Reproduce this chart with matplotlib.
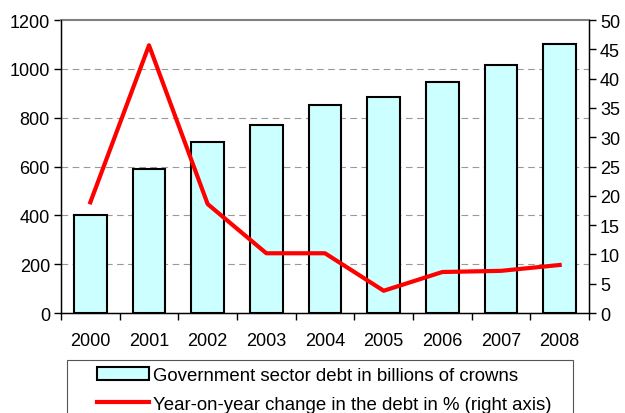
import numpy as np
import matplotlib.pyplot as plt
from matplotlib import rcParams
from matplotlib.patches import Rectangle

rcParams['font.family'] = ['Liberation Sans', 'DejaVu Sans']
rcParams['font.size'] = 13

years = ['2000', '2001', '2002', '2003', '2004', '2005', '2006', '2007', '2008']
debt = [403, 590, 700, 772, 852, 886, 948, 1018, 1103]
change = [18.9, 45.7, 18.6, 10.2, 10.2, 3.8, 7.0, 7.2, 8.2]

fig = plt.figure(figsize=(6.25, 4.14), dpi=100)
ax = fig.add_axes([0.0976, 0.2415, 0.8448, 0.7075])
x = np.arange(len(years))

# bars for debt level (left axis)
bars = ax.bar(x, debt, width=0.56, color='#ccffff', edgecolor='black',
              linewidth=1.5, zorder=3, label='Government sector debt in billions of crowns')
ax.set_ylim(0, 1200)
ax.set_xlim(-0.5, len(years) - 0.5)
ax.set_yticks(np.arange(0, 1201, 200))
for yv in range(200, 1200, 200):
    ax.axhline(yv, color='#999999', linestyle=(0, (6, 4)), linewidth=0.8, zorder=1)

ax.set_xticks(x)
ax.set_xticklabels(years)
ax.set_xticks(np.arange(-0.5, len(years), 1), minor=True)
ax.tick_params(axis='x', which='major', length=0, pad=14)
ax.tick_params(axis='x', which='minor', length=5, direction='out', width=1)
ax.tick_params(axis='y', length=5, width=1, direction='out', pad=3)

ax.spines['top'].set_color('#808080')
ax.spines['top'].set_linewidth(1.5)
for s in ['left', 'bottom', 'right']:
    ax.spines[s].set_linewidth(1.0)

# growth rate line (right axis)
ax2 = ax.twinx()
line, = ax2.plot(x, change, color='red', linewidth=3.0, zorder=4,
                 label='Year-on-year change in the debt in % (right axis)')
ax2.set_ylim(0, 50)
ax2.set_yticks(np.arange(0, 51, 5))
ax2.tick_params(axis='y', length=5, width=1, direction='out', pad=3)
ax2.spines['top'].set_visible(False)

# legend box at the bottom, running off the lower edge
fig.patches.append(Rectangle((67 / 625, -0.05), 506 / 625, 0.05 + 53 / 414,
                             transform=fig.transFigure, fill=False,
                             edgecolor='#555555', linewidth=0.8))
leg = fig.legend(handles=[bars, line], loc='upper left',
                 bbox_to_anchor=(88 / 625, 1 - 359 / 414), frameon=False,
                 fontsize=13.4, handlelength=2.8, handleheight=0.7,
                 handletextpad=0.2, borderpad=0.0, labelspacing=0.6)

fig.savefig('out.png', dpi=100)
